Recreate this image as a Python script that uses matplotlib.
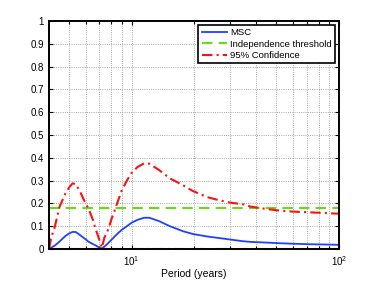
"""Magnitude-squared coherence vs period with independence threshold and 95% confidence."""
import matplotlib.pyplot as plt
from matplotlib.ticker import LogLocator, NullFormatter

plt.rcParams["font.family"] = ["Liberation Sans", "DejaVu Sans"]

# values
period = [4.0, 4.1, 4.27, 4.4, 4.5, 4.8, 5.0, 5.2, 5.4, 5.7, 6.0, 6.2, 6.5, 6.7,
          7.0, 7.2, 7.4, 7.7, 8.0, 8.3, 8.6, 9.0, 9.5, 10.0, 10.7, 11.5, 12.2,
          13.6, 15.3, 17.7, 19.7, 23.1, 25.4, 29.6, 34.5, 37.5, 45.0, 52.3,
          60.0, 71.0, 80.0, 92.6, 100.0]
msc = [0.0, 0.006, 0.015, 0.025, 0.033, 0.057, 0.068, 0.075, 0.074, 0.058,
       0.043, 0.032, 0.022, 0.016, 0.006, 0.002, 0.01, 0.025, 0.04, 0.055,
       0.069, 0.085, 0.1, 0.115, 0.128, 0.137, 0.137, 0.122, 0.1, 0.078,
       0.066, 0.055, 0.05, 0.042, 0.034, 0.031, 0.028, 0.025, 0.023, 0.021,
       0.02, 0.019, 0.018]
conf95 = [0.0, 0.05, 0.098, 0.15, 0.186, 0.244, 0.27, 0.288, 0.284, 0.244,
          0.2, 0.178, 0.13, 0.09, 0.04, 0.005, 0.05, 0.083, 0.13, 0.17,
          0.21, 0.26, 0.3, 0.333, 0.36, 0.376, 0.374, 0.346, 0.31, 0.28,
          0.255, 0.228, 0.218, 0.204, 0.196, 0.186, 0.175, 0.168, 0.164,
          0.161, 0.159, 0.156, 0.155]
conf95_low = [0.0] * len(period)
threshold = 0.18

fig = plt.figure(figsize=(3.74, 2.81), dpi=100)
ax = fig.add_axes([0.131, 0.114, 0.775, 0.811])

ax.plot(period, msc, color="#2040ff", lw=1.3, label="MSC")
ax.plot([period[0], period[-1]], [threshold, threshold], color="#66dd11",
        lw=1.5, ls=(0, (5, 3)), label="Independence threshold")
ax.plot(period, conf95, color="#ff1010", lw=1.5, ls=(0, (5, 2, 1, 2)),
        label="95% Confidence")
ax.plot(period, conf95_low, color="#ff1010", lw=1.5, ls=(0, (5, 2, 1, 2)))

ax.set_xscale("log")
ax.set_xlim(4, 100)
ax.set_ylim(0, 1)
ax.set_yticks([i / 10 for i in range(11)])
ax.set_yticklabels(["0"] + [f"{i / 10:.1f}" for i in range(1, 10)] + ["1"])
ax.xaxis.set_major_locator(LogLocator(base=10))
ax.xaxis.set_minor_locator(LogLocator(base=10, subs=range(2, 10)))
ax.xaxis.set_minor_formatter(NullFormatter())
ax.set_xlabel("Period (years)", fontsize=7.5, labelpad=1)

ax.grid(True, which="both", axis="x", ls=":", color="#888888", lw=0.6)
ax.grid(True, which="major", axis="y", ls=":", color="#888888", lw=0.6)
ax.tick_params(which="both", direction="in", top=True, right=True,
               labelsize=7, width=0.8)
ax.tick_params(which="major", length=3)
ax.tick_params(which="minor", length=2)
for spine in ax.spines.values():
    spine.set_linewidth(1.4)

leg = ax.legend(loc="upper right", fontsize=6.8, fancybox=False, framealpha=1,
                edgecolor="black", borderpad=0.35, labelspacing=0.25,
                handlelength=2.7, handletextpad=0.3, borderaxespad=0.4)
leg.get_frame().set_linewidth(1.2)

plt.savefig("out.png", dpi=100)
